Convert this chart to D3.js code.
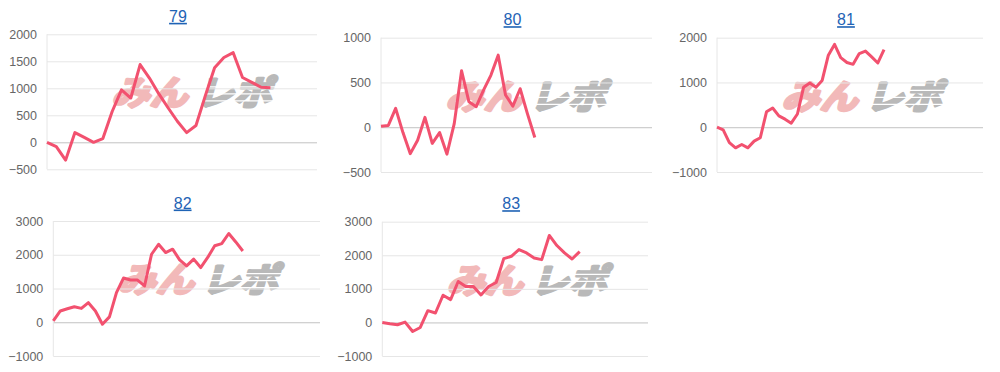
<!DOCTYPE html>
<html>
<head>
<meta charset="utf-8">
<script src="https://cdn.jsdelivr.net/npm/d3@7"></script>
<style>
  html, body { margin: 0; padding: 0; background: #fff; }
  svg { display: block; }
</style>
</head>
<body>
<script>
// machine numbers (chart titles)
var titles = ["79", "80", "81", "82", "83"];

// coin difference per data point
var diff79 = [0, -80, -330, 180, 90, 0, 70, 570, 970, 820, 1440, 1190, 900, 640, 390, 180, 310, 860, 1380, 1570, 1660, 1200, 1110, 1020, 1010];
var diff80 = [10, 20, 210, -60, -295, -145, 110, -180, -60, -300, 40, 630, 285, 230, 415, 580, 805, 360, 235, 430, 150, -115];
var diff81 = [0, -60, -345, -460, -385, -460, -310, -235, 345, 430, 255, 180, 90, 295, 895, 990, 895, 1045, 1610, 1850, 1555, 1445, 1405, 1645, 1700, 1570, 1435, 1735];
var diff82 = [40, 335, 400, 460, 410, 580, 335, -60, 160, 880, 1310, 1250, 1250, 1075, 2015, 2310, 2065, 2165, 1850, 1670, 1870, 1620, 1920, 2265, 2330, 2630, 2380, 2110];
var diff83 = [0, -40, -70, 10, -270, -150, 350, 280, 810, 680, 1220, 1070, 1070, 820, 1070, 1190, 1900, 1970, 2170, 2070, 1920, 1870, 2590, 2290, 2070, 1890, 2110];

// number of x slots on each chart's axis
var slotCounts = [30, 38, 44, 39, 36];

// y axis ticks
var ticks79 = [-500, 0, 500, 1000, 1500, 2000];
var ticks80 = [-500, 0, 500, 1000];
var ticks81 = [-1000, 0, 1000, 2000];
var ticks82 = [-1000, 0, 1000, 2000, 3000];
var ticks83 = [-1000, 0, 1000, 2000, 3000];

var seriesList = [diff79, diff80, diff81, diff82, diff83];
var tickList = [ticks79, ticks80, ticks81, ticks82, ticks83];

// plot frames on the page
var frames = [
  {left: 47,    right: 317, top: 34.3, bottom: 169.3},
  {left: 381,   right: 652, top: 37.7, bottom: 172},
  {left: 717,   right: 983, top: 37.7, bottom: 172},
  {left: 53.3,  right: 320, top: 221,  bottom: 356},
  {left: 382.3, right: 648, top: 221.7, bottom: 356}
];

var svg = d3.select("body")
  .append("svg")
  .attr("width", 1000)
  .attr("height", 372);

titles.forEach(function(title, i){
  var f = frames[i];
  var data = seriesList[i];
  var tv = tickList[i];

  var x = d3.scaleLinear()
    .domain([0, slotCounts[i] - 1])
    .range([f.left, f.right]);
  var y = d3.scaleLinear()
    .domain(d3.extent(tv))
    .range([f.bottom, f.top]);

  var g = svg.append("g");

  // watermark logo behind the plot
  var cx = f.left + 146, cy = f.top + 59;
  var wm = g.append("g")
    .attr("transform", "translate(" + cx + "," + cy + ") skewX(-16)")
    .style("font-family", "'Noto Sans CJK JP', sans-serif")
    .style("font-weight", 700)
    .style("font-size", "34px");
  wm.append("text")
    .attr("x", -2).attr("y", 12)
    .attr("text-anchor", "end")
    .attr("textLength", 76)
    .attr("lengthAdjust", "spacingAndGlyphs")
    .style("fill", "#f2b9b9")
    .style("stroke", "#f2b9b9")
    .style("stroke-width", 3)
    .style("stroke-linejoin", "round")
    .text("みん");
  wm.append("text")
    .attr("x", 6).attr("y", 12)
    .attr("textLength", 76)
    .attr("lengthAdjust", "spacingAndGlyphs")
    .style("fill", "#b9b9b9")
    .style("stroke", "#b9b9b9")
    .style("stroke-width", 3)
    .style("stroke-linejoin", "round")
    .text("レポ");
  [-7, 0, 7].forEach(function(dy){
    wm.append("rect")
      .attr("x", 4).attr("y", dy)
      .attr("width", 84).attr("height", 1.3)
      .style("fill", "#fff");
  });

  // gridlines
  g.append("g")
    .attr("transform", "translate(" + f.left + ",0)")
    .call(d3.axisLeft(y).tickValues(tv).tickSize(-(f.right - f.left)).tickFormat(""))
    .call(function(a){
      a.select(".domain").remove();
      a.selectAll(".tick line")
        .attr("stroke", function(d){ return d === 0 ? "#c2c2c2" : "#e6e6e6"; });
    });

  // y axis line
  g.append("line")
    .attr("x1", f.left).attr("x2", f.left)
    .attr("y1", f.top).attr("y2", f.bottom)
    .attr("stroke", "#e6e6e6");

  // tick labels
  g.append("g")
    .attr("transform", "translate(" + (f.left - 10) + ",0)")
    .call(d3.axisLeft(y).tickValues(tv).tickSize(0).tickPadding(0).tickFormat(d3.format("d")))
    .call(function(a){
      a.select(".domain").remove();
      a.selectAll("text")
        .style("font-family", "'Liberation Sans', Arial, sans-serif")
        .style("font-size", "12.5px")
        .style("fill", "#666");
    });

  // the line
  var line = d3.line()
    .x(function(d, j){ return x(j); })
    .y(function(d){ return y(d); });
  g.append("path")
    .datum(data)
    .attr("d", line)
    .attr("fill", "none")
    .attr("stroke", "#f2516f")
    .attr("stroke-width", 3)
    .attr("stroke-linejoin", "round");

  // title link
  g.append("text")
    .attr("x", (f.left + f.right) / 2 - 4)
    .attr("y", f.top - 12.5)
    .attr("text-anchor", "middle")
    .style("font-family", "'Liberation Sans', Arial, sans-serif")
    .style("font-size", "16px")
    .style("fill", "#1f63b5")
    .style("text-decoration", "underline")
    .text(title);
});
</script>
</body>
</html>
